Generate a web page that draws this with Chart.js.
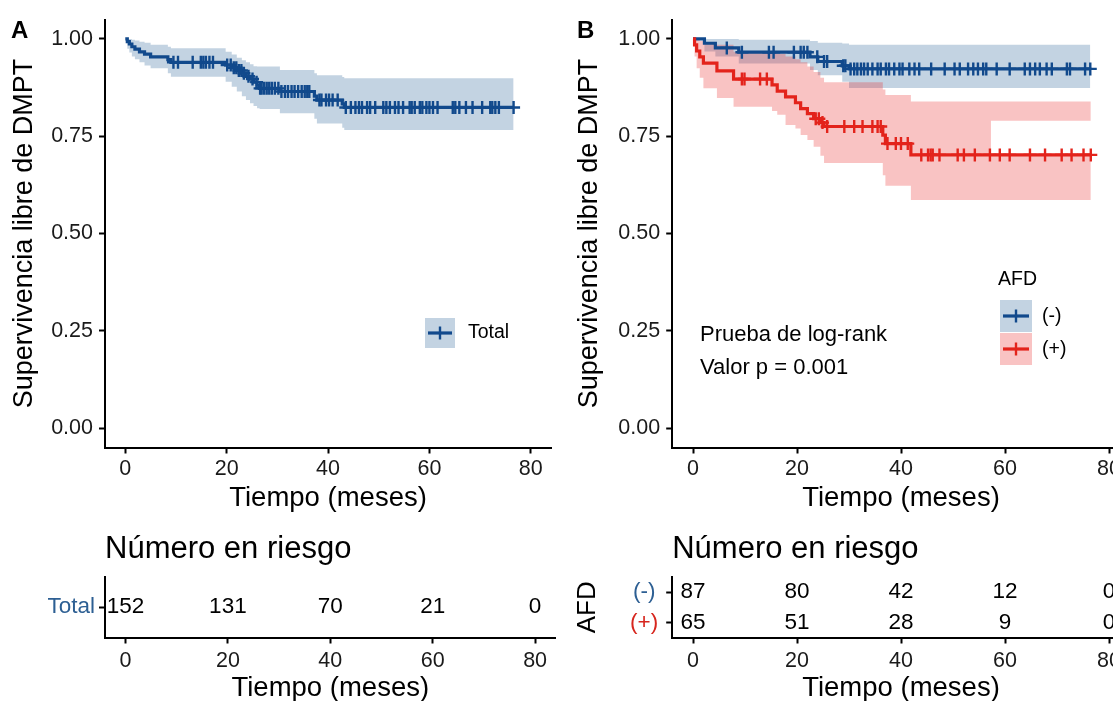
<!DOCTYPE html>
<html>
<head>
<meta charset="utf-8">
<title>Supervivencia libre de DMPT</title>
<script src="https://cdn.jsdelivr.net/npm/chart.js@4.4.0/dist/chart.umd.min.js"></script>
<style>
  html, body { margin: 0; padding: 0; background: #fff; }
  body { width: 1113px; height: 701px; overflow: hidden; position: relative; }
  canvas { position: absolute; }
</style>
</head>
<body>
<canvas id="kmA" width="560" height="520" style="left:0;top:0"></canvas>
<canvas id="kmB" width="600" height="520" style="left:560px;top:0"></canvas>
<canvas id="riskA" width="560" height="190" style="left:0;top:520px"></canvas>
<canvas id="riskB" width="600" height="190" style="left:560px;top:520px"></canvas>
<script>
// ---- data ----
const xTicks = [0, 20, 40, 60, 80];
const yTicks = [0, 0.25, 0.5, 0.75, 1];

// panel A: all patients
const totalTimes = [0, 0.4, 0.8, 1.3, 1.9, 2.8, 3.8, 5.0, 8.4, 9.0, 19.8, 21.0, 22.0, 23.0, 23.8, 24.6, 25.3, 26.0, 26.5, 30.5, 37.3, 37.8, 42.8, 43.2];
const totalSurv  = [1.0, 0.993, 0.987, 0.980, 0.974, 0.967, 0.961, 0.954, 0.947, 0.940, 0.933, 0.926, 0.919, 0.912, 0.904, 0.897, 0.889, 0.881, 0.873, 0.865, 0.853, 0.843, 0.833, 0.824];
const totalLower = [1.0, 0.975, 0.965, 0.955, 0.948, 0.940, 0.932, 0.925, 0.912, 0.903, 0.890, 0.877, 0.865, 0.853, 0.843, 0.835, 0.828, 0.822, 0.820, 0.809, 0.795, 0.783, 0.772, 0.766];
const totalUpper = [1.0, 1.0, 1.0, 0.998, 0.996, 0.993, 0.990, 0.985, 0.980, 0.976, 0.967, 0.960, 0.952, 0.945, 0.940, 0.935, 0.930, 0.929, 0.929, 0.920, 0.912, 0.907, 0.902, 0.899];
const totalEnd = 76.6;
const totalCensor = [9.5, 10.4, 13.3, 14.9, 15.4, 15.9, 16.6, 17.3, 20.1, 20.8, 21.4, 21.9, 22.4, 22.9, 23.4, 24.3, 25.1, 25.9,
  26.6, 26.9, 27.4, 27.9, 28.4, 28.9, 29.5, 30.2, 30.8, 31.5, 32.1, 32.8, 33.4, 34.1, 34.8, 35.4, 35.9, 36.3, 38.3, 38.7,
  39.6, 40.2, 40.9, 41.9, 43.5, 44.5, 45.4, 46.1, 46.7, 47.7, 48.3, 49.3, 50.9, 51.5, 52.2, 53.2, 53.9, 54.8, 56.1, 56.5,
  57.1, 58.1, 58.6, 59.4, 60.0, 60.7, 61.6, 64.6, 65.1, 65.9, 67.2, 68.5, 70.4, 72.0, 72.4, 73.0, 73.7, 76.6];

// panel B: AFD (-)
const negTimes = [0, 2.2, 4.3, 8.8, 22.5, 24.0, 28.7, 30.0];
const negSurv  = [1.0, 0.989, 0.977, 0.966, 0.954, 0.942, 0.931, 0.923];
const negLower = [1.0, 0.968, 0.955, 0.937, 0.920, 0.907, 0.890, 0.874];
const negUpper = [1.0, 1.0, 1.0, 0.998, 0.995, 0.990, 0.988, 0.985];
const negEnd = 76.4;
const negCensor = [6.5, 9.4, 14.6, 15.5, 19.4, 20.7, 21.3, 22.0, 23.9, 25.2, 25.8, 28.9, 29.3, 30.3, 31.0, 31.6, 32.3, 32.9,
  33.6, 34.5, 35.5, 36.1, 37.1, 37.7, 38.7, 39.7, 40.3, 41.6, 42.6, 43.5, 45.8, 48.4, 50.3, 51.3, 52.9, 53.9, 54.8, 55.8,
  56.4, 58.4, 60.9, 63.8, 64.8, 65.8, 66.7, 68.0, 69.0, 71.9, 72.5, 75.4, 76.4];

// panel B: AFD (+)
const posTimes = [0, 0.3, 0.7, 1.3, 2.0, 4.6, 7.8, 15.2, 16.2, 17.8, 19.7, 20.7, 22.0, 23.2, 24.5, 25.2, 36.5, 37.0, 41.9];
const posSurv  = [1.0, 0.985, 0.969, 0.954, 0.938, 0.918, 0.897, 0.882, 0.866, 0.851, 0.836, 0.821, 0.808, 0.795, 0.785, 0.775, 0.753, 0.731, 0.702];
const posLower = [1.0, 0.955, 0.925, 0.900, 0.873, 0.848, 0.826, 0.815, 0.805, 0.779, 0.770, 0.753, 0.740, 0.723, 0.700, 0.681, 0.650, 0.623, 0.586];
const posUpper = [1.0, 1.0, 1.0, 0.995, 0.990, 0.985, 0.967, 0.965, 0.962, 0.955, 0.948, 0.940, 0.929, 0.915, 0.900, 0.889, 0.870, 0.856, 0.839];
const posEnd = 76.5;
const posGapStart = 57.3;
const posGapTop = 0.79;
const posCensor = [9.4, 9.9, 12.9, 14.2, 23.6, 24.2, 24.9, 25.8, 29.1, 31.0, 32.6, 34.5, 35.5, 36.1, 37.4, 39.0, 40.0, 41.3,
  43.9, 45.2, 45.7, 46.1, 47.4, 50.9, 52.1, 54.2, 57.1, 59.0, 60.9, 64.8, 67.7, 70.9, 72.8, 75.1, 76.5];

// number at risk
const riskTimes = [0, 20, 40, 60, 80];
const riskRowsA = ['Total'];
const riskTotal = [152, 131, 70, 21, 0];
const riskRowsB = ['(-)', '(+)'];
const riskNeg = [87, 80, 42, 12, 0];
const riskPos = [65, 51, 28, 9, 0];

// ---- styles ----
const FONT = '"Liberation Sans", Arial, Helvetica, sans-serif';
const blue = '#11498C';
const red = '#E3231B';
const blueBand = 'rgba(17, 78, 139, 0.25)';
const redBand = 'rgba(235, 40, 40, 0.28)';

Chart.defaults.font.family = FONT;
Chart.defaults.color = '#000';

function stepPoints(times, vals, tEnd) {
  const pts = times.map((t, i) => ({ x: t, y: vals[i] }));
  pts.push({ x: tEnd, y: vals[vals.length - 1] });
  return pts;
}

function survAt(times, vals, t) {
  let v = vals[0];
  for (let i = 0; i < times.length; i++) {
    if (times[i] <= t) v = vals[i];
  }
  return v;
}

function censorPoints(censor, times, vals) {
  return censor.map(t => ({ x: t, y: survAt(times, vals, t) }));
}

// 'before' keeps the previous value until the next time, as a KM curve does
function curve(data, color) {
  return { data: data, borderColor: color, borderWidth: 3.2, pointRadius: 0, stepped: 'before', fill: false };
}
function marks(data, color) {
  return { data: data, showLine: false, pointStyle: 'cross', pointRadius: 6.5, pointBorderWidth: 2.4,
           pointBorderColor: color, borderColor: color };
}
function edge(data, fill, bg) {
  return { data: data, borderColor: 'transparent', borderWidth: 0, pointRadius: 0, stepped: 'before',
           fill: fill, backgroundColor: bg || 'transparent' };
}

// text and legend keys drawn on top of each canvas
const extras = {
  id: 'extras',
  afterDraw(chart, args, opts) {
    const ctx = chart.ctx;
    ctx.save();
    (opts.keys || []).forEach(k => {
      ctx.fillStyle = k.fill;
      ctx.fillRect(k.x, k.y, k.w, k.h);
      ctx.strokeStyle = k.color;
      ctx.lineWidth = 3.2;
      ctx.beginPath();
      ctx.moveTo(k.x + 3, k.y + k.h / 2);
      ctx.lineTo(k.x + k.w - 3, k.y + k.h / 2);
      ctx.stroke();
      ctx.lineWidth = 2.4;
      ctx.beginPath();
      ctx.moveTo(k.x + k.w / 2, k.y + k.h / 2 - 6.5);
      ctx.lineTo(k.x + k.w / 2, k.y + k.h / 2 + 6.5);
      ctx.stroke();
    });
    (opts.items || []).forEach(t => {
      ctx.font = t.font;
      ctx.fillStyle = t.color || '#000';
      ctx.textAlign = t.align || 'left';
      ctx.textBaseline = 'middle';
      ctx.fillText(t.text, t.x, t.y);
    });
    ctx.restore();
  }
};

// numbers at risk, written at each dataset point
const riskNumbers = {
  id: 'riskNumbers',
  afterDatasetsDraw(chart) {
    const ctx = chart.ctx;
    ctx.save();
    ctx.font = '22.5px ' + FONT;
    ctx.fillStyle = '#000';
    ctx.textAlign = 'center';
    ctx.textBaseline = 'middle';
    chart.data.datasets.forEach((ds, i) => {
      chart.getDatasetMeta(i).data.forEach((pt, j) => {
        ctx.fillText(String(ds.counts[j]), pt.x, pt.y);
      });
    });
    ctx.restore();
  }
};

function xScale(height, tickPad, titlePad) {
  return {
    type: 'linear', min: -4, max: 84,
    afterFit: s => { s.height = height; },
    afterBuildTicks: s => { s.ticks = xTicks.map(v => ({ value: v })); },
    grid: { display: true, drawOnChartArea: false, drawTicks: true, tickLength: 6, tickColor: '#000', tickWidth: 2 },
    border: { display: true, color: '#000', width: 2 },
    ticks: { font: { size: 21.5 }, color: '#1a1a1a', padding: tickPad, maxRotation: 0 },
    title: { display: true, text: 'Tiempo (meses)', font: { size: 27.5 }, color: '#000', padding: { top: 0, bottom: titlePad } }
  };
}

function kmOptions(yWidth, titlePad, padRight, extraOpts) {
  return {
    responsive: false, animation: false, devicePixelRatio: 1,
    layout: { padding: { left: 0, top: 19.5, right: padRight, bottom: 0 } },
    plugins: { legend: { display: false }, tooltip: { enabled: false }, extras: extraOpts },
    scales: {
      x: xScale(72.5, 3, 5),
      y: {
        type: 'linear', min: -0.05, max: 1.05,
        afterFit: s => { s.width = yWidth; },
        afterBuildTicks: s => { s.ticks = yTicks.map(v => ({ value: v })); },
        grid: { display: true, drawOnChartArea: false, drawTicks: true, tickLength: 6, tickColor: '#000', tickWidth: 2 },
        border: { display: true, color: '#000', width: 2 },
        ticks: { font: { size: 21.5 }, color: '#1a1a1a', padding: 6, callback: v => v.toFixed(2) },
        title: { display: true, text: 'Supervivencia libre de DMPT', font: { size: 27 }, color: '#000', padding: { top: titlePad, bottom: 0 } }
      }
    }
  };
}

function riskOptions(yWidth, padRight, rows, yTitle, titlePad, extraOpts) {
  return {
    responsive: false, animation: false, devicePixelRatio: 1,
    layout: { padding: { left: 0, top: 57, right: padRight, bottom: 0 } },
    plugins: { legend: { display: false }, tooltip: { enabled: false }, extras: extraOpts },
    scales: {
      x: xScale(72.5, 5, 5),
      y: {
        type: 'category', labels: rows.labels, offset: true,
        afterFit: s => { s.width = yWidth; },
        grid: { display: true, offset: false, drawOnChartArea: false, drawTicks: true, tickLength: 6, tickColor: '#000', tickWidth: 2 },
        border: { display: true, color: '#000', width: 2 },
        ticks: { font: { size: 22.5 }, padding: rows.pad, crossAlign: rows.align, color: c => rows.colors[c.index] },
        title: { display: yTitle !== '', text: yTitle, font: { size: 26 }, color: '#000', padding: { top: titlePad, bottom: 0 } }
      }
    }
  };
}

// ---- panel A ----
new Chart(document.getElementById('kmA'), {
  type: 'line',
  data: {
    datasets: [
      marks(censorPoints(totalCensor, totalTimes, totalSurv), blue),
      curve(stepPoints(totalTimes, totalSurv, totalEnd), blue),
      edge(stepPoints(totalTimes, totalLower, totalEnd), false),
      edge(stepPoints(totalTimes, totalUpper, totalEnd), '-1', blueBand)
    ]
  },
  options: kmOptions(105, 8, 4.4, {
    keys: [{ x: 425, y: 318, w: 30, h: 30, fill: blueBand, color: blue }],
    items: [
      { text: 'A', x: 11, y: 31, font: 'bold 24px ' + FONT },
      { text: 'Total', x: 468, y: 333, font: '19.5px ' + FONT }
    ]
  }),
  plugins: [extras]
});

// ---- panel B ----
const posGap = posTimes.filter(t => t < posGapStart).map((t, i) => ({ x: t, y: posSurv[i] }));
posGap.push({ x: posGapStart, y: posGapTop }, { x: posEnd, y: posGapTop });

new Chart(document.getElementById('kmB'), {
  type: 'line',
  data: {
    datasets: [
      marks(censorPoints(posCensor, posTimes, posSurv), red),
      marks(censorPoints(negCensor, negTimes, negSurv), blue),
      curve(stepPoints(posTimes, posSurv, posEnd), red),
      curve(stepPoints(negTimes, negSurv, negEnd), blue),
      edge(stepPoints(posTimes, posLower, posEnd), 2, redBand),
      edge(posGap, false),
      edge(stepPoints(posTimes, posUpper, posEnd), '-1', redBand),
      edge(stepPoints(negTimes, negLower, negEnd), false),
      edge(stepPoints(negTimes, negUpper, negEnd), '-1', blueBand)
    ]
  },
  options: kmOptions(112.2, 13, 30.2, {
    keys: [
      { x: 440, y: 300, w: 32, h: 32, fill: blueBand, color: blue },
      { x: 440, y: 333, w: 32, h: 32, fill: redBand, color: red }
    ],
    items: [
      { text: 'B', x: 17, y: 31, font: 'bold 24px ' + FONT },
      { text: 'AFD', x: 438, y: 280, font: '19.5px ' + FONT },
      { text: '(-)', x: 482, y: 317, font: '19.5px ' + FONT },
      { text: '(+)', x: 482, y: 350, font: '19.5px ' + FONT },
      { text: 'Prueba de log-rank', x: 140, y: 335, font: '22px ' + FONT },
      { text: 'Valor p = 0.001', x: 140, y: 368, font: '22px ' + FONT }
    ]
  }),
  plugins: [extras]
});

// ---- risk tables ----
function riskRow(label, counts) {
  return { data: riskTimes.map(t => ({ x: t, y: label })), counts: counts, pointRadius: 0, showLine: false };
}

new Chart(document.getElementById('riskA'), {
  type: 'line',
  data: { datasets: [riskRow('Total', riskTotal)] },
  options: riskOptions(105, 4.4, { labels: riskRowsA, colors: ['#2D5F93'], pad: 4, align: 'near' }, '', 0, {
    items: [{ text: 'Número en riesgo', x: 105, y: 29, font: '31px ' + FONT }]
  }),
  plugins: [riskNumbers, extras]
});

new Chart(document.getElementById('riskB'), {
  type: 'line',
  data: { datasets: [riskRow('(-)', riskNeg), riskRow('(+)', riskPos)] },
  options: riskOptions(112.2, 30.2, { labels: riskRowsB, colors: ['#2D5F93', '#D7261E'], pad: 8, align: 'center' }, 'AFD', 12, {
    items: [{ text: 'Número en riesgo', x: 112.2, y: 29, font: '31px ' + FONT }]
  }),
  plugins: [riskNumbers, extras]
});
</script>
</body>
</html>
